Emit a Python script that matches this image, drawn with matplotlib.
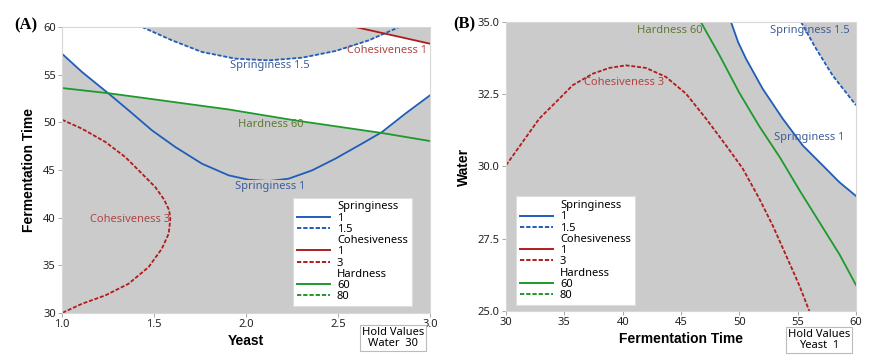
import numpy as np
import matplotlib
matplotlib.use("Agg")
import matplotlib.pyplot as plt
from matplotlib.lines import Line2D

plt.rcParams['font.family'] = ['Noto Sans', 'DejaVu Sans']

# ---- panel A: Yeast (x) vs Fermentation Time (y), Water held at 30 ----
a_spring1_x = [1.0, 1.109, 1.254, 1.362, 1.489, 1.616, 1.761, 1.906, 2.014, 2.123,
               2.232, 2.359, 2.486, 2.630, 2.739, 2.866, 3.0]
a_spring1_y = [57.2, 55.28, 53.01, 51.26, 49.16, 47.41, 45.66, 44.44, 43.98, 43.84,
               44.09, 44.96, 46.19, 47.76, 48.98, 50.91, 52.83]
a_spring15_x = [1.435, 1.598, 1.761, 1.942, 2.123, 2.304, 2.486, 2.667, 2.833]
a_spring15_y = [60.0, 58.60, 57.38, 56.68, 56.50, 56.78, 57.48, 58.60, 60.0]
a_coh1_x = [2.594, 2.757, 3.0]
a_coh1_y = [60.0, 59.30, 58.25]
a_coh3_x = [1.0, 1.109, 1.236, 1.344, 1.435, 1.507, 1.555, 1.582, 1.589, 1.580, 1.543,
            1.471, 1.362, 1.236, 1.109, 1.0]
a_coh3_y = [50.28, 49.33, 47.94, 46.36, 44.61, 43.21, 41.9, 40.8, 39.89, 38.32, 36.75,
            34.82, 33.07, 31.85, 30.97, 30.0]
a_hard60_x = [1.0, 1.254, 1.543, 1.906, 2.268, 2.739, 3.0]
a_hard60_y = [53.60, 53.05, 52.3, 51.35, 50.2, 48.88, 48.04]

# ---- panel B: Fermentation Time (x) vs Water (y), Yeast held at 1 ----
b_spring1_x = [49.29, 49.9, 50.57, 52.0, 53.71, 55.43, 57.14, 58.57, 60.0]
b_spring1_y = [35.0, 34.3, 33.73, 32.69, 31.66, 30.73, 30.04, 29.46, 28.98]
b_spring15_x = [55.29, 56.57, 58.0, 60.0]
b_spring15_y = [35.0, 34.08, 33.15, 32.12]
b_coh3_x = [30.0, 31.43, 32.86, 34.29, 35.71, 37.43, 38.86, 40.29, 42.0, 43.71,
            45.43, 47.14, 48.86, 50.29, 51.71, 52.86, 54.0, 55.14, 56.0]
b_coh3_y = [30.04, 30.85, 31.66, 32.23, 32.81, 33.21, 33.41, 33.50, 33.41, 33.10,
            32.52, 31.66, 30.73, 29.93, 28.89, 27.96, 26.93, 25.89, 25.0]
b_hard60_x = [46.7, 48.3, 50.0, 51.7, 53.5, 55.2, 56.9, 58.6, 60.0]
b_hard60_y = [35.0, 33.85, 32.55, 31.4, 30.3, 29.15, 28.05, 26.95, 25.9]

BLUE = '#1f5db8'
RED = '#b01c1c'
GREEN = '#1c9a2c'
GRAY = '#cbcbcb'
DASH = (0, (2.2, 1.0))
BOLD = dict(fontsize=10, fontweight='bold', family='Liberation Sans')

fig = plt.figure(figsize=(8.73, 3.64), dpi=100)
axA = fig.add_axes([0.0710, 0.1401, 0.4215, 0.7857])
axB = fig.add_axes([0.5796, 0.1456, 0.4009, 0.7940])


def style_axes(ax):
    ax.set_facecolor(GRAY)
    for s in ax.spines.values():
        s.set_color('#d8d8d8')
        s.set_linewidth(0.8)
    ax.tick_params(length=3, width=0.6, color='#999999', labelsize=8, pad=1.5,
                   labelcolor='#222222')


def add_legend(ax, anchor):
    handles = [
        Line2D([], [], linestyle='none'),
        Line2D([], [], color=BLUE, lw=1.4),
        Line2D([], [], color=BLUE, lw=1.4, linestyle=DASH),
        Line2D([], [], linestyle='none'),
        Line2D([], [], color=RED, lw=1.4),
        Line2D([], [], color=RED, lw=1.4, linestyle=DASH),
        Line2D([], [], linestyle='none'),
        Line2D([], [], color=GREEN, lw=1.4),
        Line2D([], [], color=GREEN, lw=1.4, linestyle=DASH),
    ]
    labels = ['Springiness', '1', '1.5', 'Cohesiveness', '1', '3', 'Hardness', '60', '80']
    leg = ax.legend(handles, labels, loc='lower left', bbox_to_anchor=anchor,
                    fontsize=8, labelspacing=0.02, handlelength=3.0,
                    handletextpad=0.6, borderpad=0.35, fancybox=False,
                    framealpha=1, edgecolor='#dddddd', borderaxespad=0)
    leg.get_frame().set_linewidth(0.8)


# panel A
style_axes(axA)
xa = np.linspace(1.0, 3.0, 801)
lowA = np.maximum(np.interp(xa, a_spring1_x, a_spring1_y), np.interp(xa, a_hard60_x, a_hard60_y))
upA = np.full_like(xa, 60.0)
m = (xa >= a_spring15_x[0]) & (xa <= a_spring15_x[-1])
upA[m] = np.minimum(upA[m], np.interp(xa[m], a_spring15_x, a_spring15_y))
m = xa >= a_coh1_x[0]
upA[m] = np.minimum(upA[m], np.interp(xa[m], a_coh1_x, a_coh1_y))
axA.fill_between(xa, lowA, upA, where=upA > lowA, color='white', lw=0)

axA.plot(a_spring1_x, a_spring1_y, color=BLUE, lw=1.3)
axA.plot(a_spring15_x, a_spring15_y, color=BLUE, lw=1.3, linestyle=DASH)
axA.plot(a_coh1_x, a_coh1_y, color=RED, lw=1.3)
axA.plot(a_coh3_x, a_coh3_y, color=RED, lw=1.3, linestyle=DASH)
axA.plot(a_hard60_x, a_hard60_y, color=GREEN, lw=1.3)

lab = dict(fontsize=8, ha='center', va='center')
axA.text(2.132, 55.91, 'Springiness 1.5', color='#3d5d9a', **lab)
axA.text(2.766, 57.55, 'Cohesiveness 1', color='#b04545', **lab)
axA.text(2.132, 49.75, 'Hardness 60', color='#5f7a35', **lab)
axA.text(2.132, 43.28, 'Springiness 1', color='#3d5d9a',
         bbox=dict(facecolor=GRAY, edgecolor='none', pad=0.5), **lab)
axA.text(1.371, 39.79, 'Cohesiveness 3', color='#b04545', **lab)

axA.set_xlim(1.0, 3.0)
axA.set_ylim(30, 60)
axA.set_xticks([1.0, 1.5, 2.0, 2.5, 3.0])
axA.set_yticks([30, 35, 40, 45, 50, 55, 60])
axA.set_xlabel('Yeast', labelpad=3, **BOLD)
axA.set_ylabel('Fermentation Time', labelpad=5, **BOLD)
add_legend(axA, (0.628, 0.024))

# panel B
style_axes(axB)
xb = np.linspace(b_spring1_x[0], 60.0, 601)
lowB = np.interp(xb, b_spring1_x, b_spring1_y)
upB = np.full_like(xb, 35.0)
m = xb >= b_spring15_x[0]
upB[m] = np.interp(xb[m], b_spring15_x, b_spring15_y)
axB.fill_between(xb, lowB, upB, color='white', lw=0)

axB.plot(b_spring1_x, b_spring1_y, color=BLUE, lw=1.3)
axB.plot(b_spring15_x, b_spring15_y, color=BLUE, lw=1.3, linestyle=DASH)
axB.plot(b_coh3_x, b_coh3_y, color=RED, lw=1.3, linestyle=DASH)
axB.plot(b_hard60_x, b_hard60_y, color=GREEN, lw=1.3)

axB.text(44.06, 34.71, 'Hardness 60', color='#5f7a35', **lab)
axB.text(56.06, 34.71, 'Springiness 1.5', color='#3d5d9a', **lab)
axB.text(40.14, 32.89, 'Cohesiveness 3', color='#b04545', **lab)
axB.text(56.0, 30.99, 'Springiness 1', color='#3d5d9a', **lab)

axB.set_xlim(30, 60)
axB.set_ylim(25, 35)
axB.set_xticks([30, 35, 40, 45, 50, 55, 60])
axB.set_yticks([25.0, 27.5, 30.0, 32.5, 35.0])
axB.set_yticklabels(['25.0', '27.5', '30.0', '32.5', '35.0'])
axB.set_xlabel('Fermentation Time', labelpad=3, **BOLD)
axB.set_ylabel('Water', labelpad=5, **BOLD)
add_legend(axB, (0.0286, 0.021))

# hold value boxes
hold = dict(fontsize=8, ha='center', va='center', linespacing=1.0,
            bbox=dict(facecolor='white', edgecolor='#bbbbbb', boxstyle='square,pad=0.2', lw=0.8))
fig.text(0.450, 0.072, 'Hold Values\nWater  30', **hold)
fig.text(0.938, 0.066, 'Hold Values\nYeast  1', **hold)

# panel letters
fig.text(0.029, 0.93, '(A)', fontsize=12, fontweight='bold', family='Liberation Serif',
         ha='center', va='center')
fig.text(0.532, 0.934, '(B)', fontsize=12, fontweight='bold', family='Liberation Serif',
         ha='center', va='center')

fig.savefig('out.png', dpi=100)
